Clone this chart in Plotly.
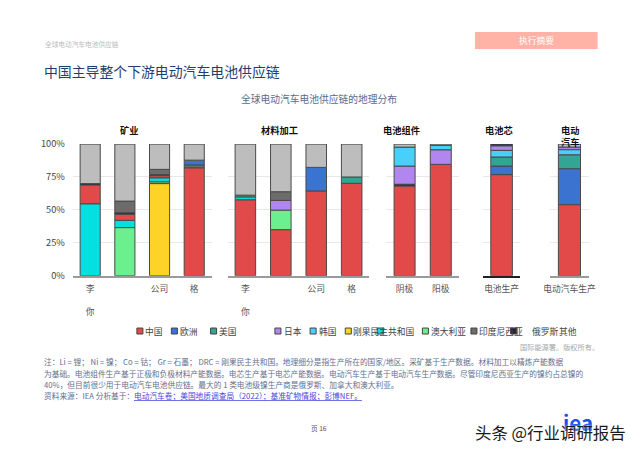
import plotly.graph_objects as go

W, H = 640, 453
FONT = "Noto Sans CJK SC, Noto Sans, sans-serif"

# ---------------- data ----------------
groups = ["矿业", "材料加工", "电池组件", "电池芯", "电动<br>汽车"]
group_cats = [["锂", "镍", "钴", "石墨"],
              ["锂加工", "镍加工", "钴加工", "石墨加工"],
              ["阴极", "阳极"],
              ["电池生产"],
              ["电动汽车生产"]]
group_ticks = [["李<br><br>你", "", "公司", "格"],
               ["李<br><br>你", "", "公司", "格"],
               ["阴极", "阳极"],
               ["电池生产"],
               ["电动汽车生产"]]

y_tick_vals = [0, 25, 50, 75, 100]
y_tick_text = ["0%", "25%", "50%", "75%", "100%"]

china     = [14.5, 4.7, 1.8, 82.0, 57.7, 35.0, 64.4, 70.2, 68.2, 84.6, 76.8, 54.0]
europe    = [0, 0, 0, 3.8, 0, 0, 17.9, 0, 0, 0, 6.5, 27.3]
usa       = [0, 0, 0, 0, 1.5, 0, 0, 4.8, 0, 0, 6.9, 10.6]
japan     = [0, 0, 0, 0, 0, 7.5, 0, 0, 13.9, 11.1, 3.5, 2.0]
korea     = [0, 0, 0, 0, 0, 0, 0, 0, 14.4, 3.3, 5.0, 3.8]
drc       = [0, 0, 70.0, 0, 0, 0, 0, 0, 0, 0, 0, 0]
australia = [54.5, 5.5, 3.0, 0, 2.0, 0, 0, 0, 0, 0, 0, 0]
indonesia = [0, 36.5, 1.2, 0, 0, 14.7, 0, 0, 0, 0, 0, 0]
russia    = [0, 9.0, 4.0, 2.0, 0, 6.6, 0, 0, 0, 0, 0, 0]
other     = [1.0, 1.0, 0.8, 0, 0, 0, 0, 0, 1.2, 0, 1.3, 0]
rest      = [30.0, 43.3, 19.2, 12.2, 38.8, 36.2, 17.7, 25.0, 2.3, 1.0, 0, 2.3]

series_names = ["中国", "欧洲", "美国", "日本", "韩国", "刚果民主共和国",
                "澳大利亚", "印度尼西亚", "俄罗斯", "其他", "其余"]
series_values = [china, europe, usa, japan, korea, drc,
                 australia, indonesia, russia, other, rest]
series_colors = ["#e24a4a", "#3a74d0", "#33a594", "#b186ee", "#48d0fa", "#fdd328",
                 "#03e0e0", "#6cf08f", "#6c6c6c", "#1b2540", "#bdbdbd"]

stack_order = [
    [6, 0, 9, 10],
    [7, 6, 0, 9, 8, 10],
    [5, 7, 6, 0, 9, 8, 10],
    [0, 8, 1, 10],
    [0, 6, 2, 10],
    [0, 7, 3, 8, 10],
    [0, 1, 10],
    [0, 2, 10],
    [0, 9, 3, 4, 10],
    [0, 3, 4, 10],
    [0, 1, 2, 4, 3, 9],
    [0, 1, 2, 4, 3, 10],
]

legend_labels = ["中国", "欧洲", "美国", "日本", "韩国", "刚果民主共和国",
                 "澳大利亚", "印度尼西亚", "俄罗斯", "其他"]

# ---------------- layout helpers ----------------
SX, OX = 0.973, 9.5
SY, OY = 0.972, 7.0
FS = 1.0 / SX

def px(x):
    return ((x - OX) / SX) / W

def py(y):
    return 1 - ((y - OY) / SY) / H

def fs(s):
    return round(s * FS, 2)

x_domains = [(75, 213), (229, 370), (387, 459), (483, 520), (550, 588)]
y_domain = [py(275.5), py(143.5)]

n_bars = len(china)
bases = [[None] * n_bars for _ in series_values]
for b in range(n_bars):
    acc = 0.0
    for s in stack_order[b]:
        v = series_values[s][b]
        if v:
            bases[s][b] = acc
            acc += v

fig = go.Figure()
bar_idx = 0
for g, cats in enumerate(group_cats):
    idxs = list(range(bar_idx, bar_idx + len(cats)))
    bar_idx += len(cats)
    for s, vals in enumerate(series_values):
        ys = [vals[i] if vals[i] else None for i in idxs]
        if all(v is None for v in ys):
            continue
        fig.add_trace(go.Bar(
            x=cats, y=ys, base=[bases[s][i] for i in idxs],
            name=series_names[s], showlegend=False,
            marker=dict(color=series_colors[s], line=dict(color="#4a4a4a", width=1)),
            xaxis="x" if g == 0 else f"x{g+1}",
            yaxis="y" if g == 0 else f"y{g+1}",
            hoverinfo="name+y",
        ))

layout = dict(
    width=W, height=H, autosize=False,
    margin=dict(l=0, r=0, t=0, b=0),
    paper_bgcolor="white", plot_bgcolor="white",
    barmode="overlay", bargap=0.42,
    font=dict(family=FONT, size=fs(9), color="#444"),
    showlegend=False,
)
for g in range(len(groups)):
    sx = "xaxis" if g == 0 else f"xaxis{g+1}"
    sy = "yaxis" if g == 0 else f"yaxis{g+1}"
    anchor_y = "y" if g == 0 else f"y{g+1}"
    anchor_x = "x" if g == 0 else f"x{g+1}"
    layout[sx] = dict(
        domain=[px(x_domains[g][0]), px(x_domains[g][1])], anchor=anchor_y,
        type="category", categoryorder="array", categoryarray=group_cats[g],
        tickvals=group_cats[g], ticktext=group_ticks[g],
        range=[-0.5, len(group_cats[g]) - 0.5],
        showline=True, linecolor="#222" if g == 3 else "#9a9a9a", linewidth=2,
        showgrid=False, ticks="", ticklabelstandoff=4,
        tickfont=dict(size=fs(8.5), color="#555"),
        fixedrange=True,
    )
    layout[sy] = dict(
        domain=y_domain, anchor=anchor_x, range=[0, 100],
        tickmode="array", tickvals=y_tick_vals, ticktext=y_tick_text,
        showticklabels=(g == 0), ticks="", ticklabelstandoff=7,
        showgrid=True, gridcolor="#e8e8e8", gridwidth=1,
        zeroline=False, showline=False,
        tickfont=dict(size=fs(9), color="#444"), fixedrange=True,
    )
fig.update_layout(**layout)

ann = []
shapes = []

def text(x, y, t, size, color="#444", xanchor="left", bold=False, **kw):
    ann.append(dict(x=px(x), y=py(y), xref="paper", yref="paper", text=t,
                    showarrow=False, xanchor=xanchor, yanchor="middle",
                    font=dict(family=FONT, size=fs(size), color=color,
                              weight=700 if bold else 400, **kw.pop("font", {})),
                    **kw))

# header
text(45, 43, "全球电动汽车电池供应链", 6.5, "#bdbdbd")
shapes.append(dict(type="rect", xref="paper", yref="paper",
                   x0=px(475), x1=px(597), y0=py(48), y1=py(31),
                   fillcolor="#ffb2a5", line=dict(width=0)))
text(536, 39.5, "执行摘要", 8.5, "white", xanchor="center")
text(44, 70, "中国主导整个下游电动汽车电池供应链", 13.5, "#1f3d70")
text(320, 98, "全球电动汽车电池供应链的地理分布", 9.5, "#5b6b8c", xanchor="center")

# group titles
title_x = [131, 281, 402, 499, 570]
for g, t in enumerate(groups):
    yy = 135 if "<br>" in t else 129
    text(title_x[g], yy, t, 9, "#111", xanchor="center", bold=True)

# custom legend
leg_marker_x = [141.7, 176, 215, 279, 314, 349, 380.7, 425.7, 474, 513.5]
leg_text_x = [145, 180, 218, 283, 318, 352, 429, 477, 530, 557]
for i, lab in enumerate(legend_labels):
    mx = leg_marker_x[i]
    shapes.append(dict(type="rect", xref="paper", yref="paper",
                       x0=px(mx - 3), x1=px(mx + 3), y0=py(334), y1=py(328),
                       fillcolor=series_colors[i], line=dict(color="#444", width=1)))
    text(leg_text_x[i], 331, lab, 8.5, "#444")

# notes
text(600, 347, "国际能源署。版权所有。", 7, "#a8a8a8", xanchor="right")
note_lines = [
    "注：Li = 锂； Ni = 镍； Co = 钴； Gr = 石墨； DRC = 刚果民主共和国。地理细分是指生产所在的国家/地区。采矿基于生产数据。材料加工以精炼产能数据",
    "为基础。电池组件生产基于正极和负极材料产能数据。电芯生产基于电芯产能数据。电动汽车生产基于电动汽车生产数据。尽管印度尼西亚生产的镍约占总镍的",
    "40%，但目前很少用于电动汽车电池供应链。最大的 1 类电池级镍生产商是俄罗斯、加拿大和澳大利亚。",
]
for i, ln in enumerate(note_lines):
    text(44, 362 + i * 11.5, ln, 7.5, "#5f6f8f")
text(44, 396, "资料来源：IEA 分析基于：", 7.5, "#5f6f8f")
text(134, 396, "电动汽车卷；美国地质调查局（2022）；基准矿物情报；彭博NEF。", 7.5, "#4747e0",
     font=dict(lineposition="under"))
text(320, 428, "页 16", 6.5, "#555", xanchor="center")

# logo + watermark
text(578, 422, "iea", 20, "#1b4ff5", xanchor="center", bold=True)
text(550, 432, "头条 @行业调研报告", 16, "#1a1a1a", xanchor="center",
     font=dict(shadow="0px 0px 3px white"))

fig.update_layout(annotations=ann, shapes=shapes)
fig.write_html(
    "out.html",
    config={"displayModeBar": False},
    post_script="document.body.style.margin='0';document.body.style.padding='0';"
                "document.documentElement.style.overflow='hidden';",
)
